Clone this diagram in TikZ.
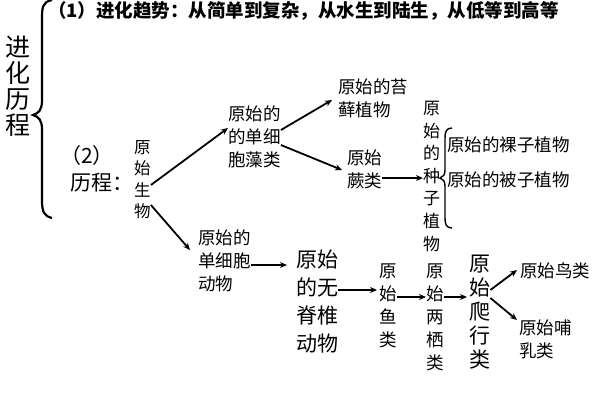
\documentclass[tikz,border=0pt]{standalone}
\usepackage{fontspec}
\setmainfont{Noto Sans CJK SC}
\usetikzlibrary{arrows.meta,decorations.pathreplacing}
\tikzset{
 t/.style={inner sep=0pt,align=left,font=\fontsize{17.5}{23}\selectfont,anchor=north west},
 tb/.style={t,font=\fontsize{21}{28}\selectfont},
 ar/.style={-{Stealth[length=7pt,width=6pt]},line width=1.8pt},
}
\begin{document}
\begin{tikzpicture}[x=1pt,y=-1pt]
\useasboundingbox (0,0) rectangle (600,400);
\node[t,font=\fontsize{25}{26}\selectfont,align=center,anchor=north] (title) at (18,36) {进\\化\\历\\程};
\draw[line width=2.2pt] (52,0) .. controls (42,2) and (42,8) .. (42,20) -- (42,100) .. controls (42,110) and (39,113) .. (33,115) .. controls (39,117) and (42,120) .. (42,130) -- (42,200) .. controls (42,212) and (44,216) .. (52,218);
\node[t,font=\bfseries\fontsize{18.5}{20}\selectfont] (trend) at (48,1) {（1）进化趋势：从简单到复杂，从水生到陆生，从低等到高等};
\node[t,font=\fontsize{21}{24}\selectfont] (p2) at (60,145) {（2）};
\node[t,font=\fontsize{21}{24}\selectfont] (lc) at (70,173) {历程：};
\node[t,align=center,font=\fontsize{16.5}{21.5}\selectfont] (sw) at (134,140) {原\\始\\生\\物};
\node[t] (zl) at (228,106) {原始的\\的单细\\胞藻类};
\node[t] (tx) at (338,79) {原始的苔\\藓植物};
\node[t] (jl) at (347,150) {原始\\蕨类};
\node[t,align=center,font=\fontsize{17}{22.6}\selectfont] (zz) at (423,101) {原\\始\\的\\种\\子\\植\\物};
\draw[line width=1.4pt] (452,128) .. controls (446,128) and (445,132) .. (445,138) -- (445,170) .. controls (445,175) and (443,177) .. (440,178) .. controls (443,179) and (445,181) .. (445,186) -- (445,218) .. controls (445,224) and (446,228) .. (452,228);
\node[t] (lz) at (447,137) {原始的裸子植物};
\node[t] (bz) at (447,172) {原始的被子植物};
\node[t] (dw) at (198,230) {原始的\\单细胞\\动物};
\node[tb] (wj) at (296,250) {原始\\的无\\脊椎\\动物};
\node[t,align=center] (yl) at (379,264) {原\\始\\鱼\\类};
\node[t,align=center] (lq) at (426,264) {原\\始\\两\\栖\\类};
\node[tb,align=center,font=\fontsize{21}{24}\selectfont] (px) at (469,255) {原\\始\\爬\\行\\类};
\node[t] (nl) at (520,263) {原始鸟类};
\node[t] (br) at (519,320) {原始哺\\乳类};
\draw[ar] (sw.east|-0,185) -- (zl.west|-0,128);
\draw[ar] (sw.east|-0,205) -- (190,250);
\draw[ar] (zl.east|-0,130) -- (332,100);
\draw[ar] (zl.east|-0,145) -- (342,170);
\draw[ar] (jl.east|-0,178) -- (zz.west|-0,178);
\draw[ar] (dw.east|-0,265) -- (287,265);
\draw[ar] (wj.east|-0,290) -- (377,290);
\draw[ar] (yl.east|-0,297) -- (lq.west|-0,297);
\draw[ar] (lq.east|-0,297) -- (467,297);
\draw[ar] (px.east|-0,290) -- (517,270);
\draw[ar] (px.east|-0,298) -- (517,320);
\end{tikzpicture}
\end{document}
